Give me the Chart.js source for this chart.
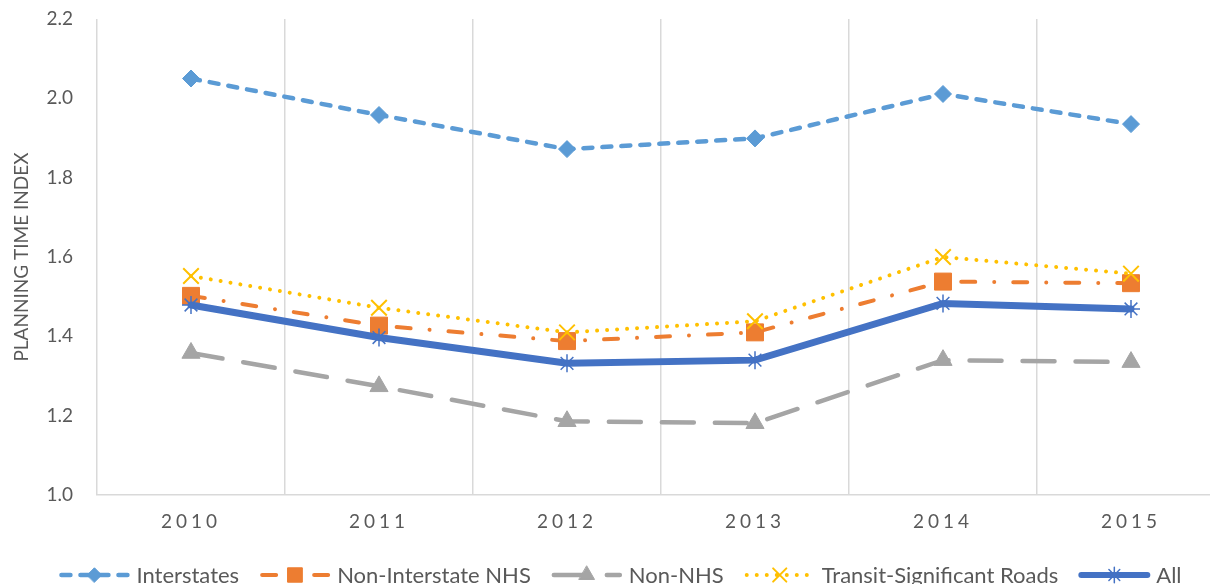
<!DOCTYPE html>
<html>
<head>
<meta charset="utf-8">
<script src="https://cdn.jsdelivr.net/npm/chart.js@4"></script>
<style>
  html, body { margin: 0; padding: 0; background: #ffffff; overflow: hidden; width: 1210px; height: 584px; }
  #wrap { width: 1240px; height: 600px; }
</style>
</head>
<body>
<div id="wrap"><canvas id="c" width="1240" height="600"></canvas></div>
<script>
const categories = ['2010', '2011', '2012', '2013', '2014', '2015'];
const seriesNames = ['Interstates', 'Non-Interstate NHS', 'Non-NHS', 'Transit-Significant Roads', 'All'];
const interstates      = [2.050, 1.958, 1.872, 1.899, 2.011, 1.935];
const nonInterstateNHS = [1.502, 1.427, 1.388, 1.410, 1.538, 1.534];
const nonNHS           = [1.358, 1.274, 1.186, 1.181, 1.340, 1.335];
const transitRoads     = [1.552, 1.472, 1.410, 1.438, 1.600, 1.558];
const allRoads         = [1.479, 1.397, 1.332, 1.340, 1.483, 1.469];
const yMin = 1.0, yMax = 2.2, yStep = 0.2;
const yTitle = 'PLANNING TIME INDEX';

const FONT = 'Lato';
const TEXT = '#595959';
const GRID = '#d9d9d9';

const datasets = [
  { label: seriesNames[0], data: interstates, borderColor: '#5B9BD5', backgroundColor: '#5B9BD5',
    borderWidth: 4.5, borderDash: [9, 10], borderCapStyle: 'round',
    pointStyle: 'rectRot', pointRadius: 8.5, pointBorderWidth: 1, order: 5 },
  { label: seriesNames[1], data: nonInterstateNHS, borderColor: '#ED7D31', backgroundColor: '#ED7D31',
    borderWidth: 4, borderDash: [14, 19, 0.01, 19], borderCapStyle: 'round',
    pointStyle: 'rect', pointRadius: 12, pointBorderWidth: 1, order: 4 },
  { label: seriesNames[2], data: nonNHS, borderColor: '#A5A5A5', backgroundColor: '#A5A5A5',
    borderWidth: 4.5, borderDash: [32, 21], borderCapStyle: 'round',
    pointStyle: 'triangle', pointRadius: 10.5, pointBorderWidth: 1, order: 3 },
  { label: seriesNames[3], data: transitRoads, borderColor: '#FFC000', backgroundColor: '#FFC000',
    borderWidth: 4, borderDash: [0.01, 10], borderCapStyle: 'round',
    pointStyle: 'crossRot', pointRadius: 11, pointBorderWidth: 2, order: 2 },
  { label: seriesNames[4], data: allRoads, borderColor: '#4472C4', backgroundColor: '#4472C4',
    borderWidth: 7, borderDash: [], borderCapStyle: 'round',
    pointStyle: 'star', pointRadius: 9, pointBorderWidth: 1.5, order: 1 }
].map(d => Object.assign({ fill: false, tension: 0, pointBackgroundColor: d.backgroundColor,
  pointBorderColor: d.borderColor, pointHoverRadius: d.pointRadius }, d));

const legendPlugin = {
  id: 'customLegend',
  afterDraw(chart) {
    const ctx = chart.ctx;
    const symW = 72, gapText = 6, gapItem = 20, y = 575;
    ctx.save();
    ctx.font = '22px ' + FONT;
    const widths = chart.data.datasets.map(d => ctx.measureText(d.label).width);
    let total = 0;
    widths.forEach((w, i) => { total += symW + gapText + w + (i < widths.length - 1 ? gapItem : 0); });
    let x = chart.width / 2 - total / 2;
    chart.data.datasets.forEach((d, i) => {
      ctx.save();
      ctx.strokeStyle = d.borderColor;
      ctx.lineWidth = Math.min(d.borderWidth, 6);
      ctx.lineCap = 'round';
      ctx.setLineDash(d.borderDash || []);
      ctx.beginPath();
      ctx.moveTo(x + 3, y);
      ctx.lineTo(x + symW - 3, y);
      ctx.stroke();
      ctx.setLineDash([]);
      ctx.fillStyle = d.backgroundColor;
      ctx.strokeStyle = d.borderColor;
      ctx.lineWidth = d.pointBorderWidth;
      if (Chart.helpers && Chart.helpers.drawPoint) {
        Chart.helpers.drawPoint(ctx, { pointStyle: d.pointStyle, radius: d.pointRadius * 0.85,
          borderWidth: d.pointBorderWidth, rotation: 0 }, x + symW / 2, y);
      }
      ctx.restore();
      ctx.fillStyle = TEXT;
      ctx.textBaseline = 'middle';
      ctx.textAlign = 'left';
      ctx.fillText(d.label, x + symW + gapText, y + 1);
      x += symW + gapText + widths[i] + gapItem;
    });
    ctx.restore();
  }
};

const spacingPlugin = {
  id: 'xLetterSpacing',
  beforeDraw(chart) {
    const xs = chart.scales.x;
    if (xs && !xs._spaced) {
      const orig = xs.drawLabels;
      xs.drawLabels = function (ca) {
        this.ctx.save();
        this.ctx.letterSpacing = '4px';
        orig.call(this, ca);
        this.ctx.restore();
      };
      xs._spaced = true;
    }
  }
};

new Chart(document.getElementById('c'), {
  type: 'line',
  data: { labels: categories, datasets },
  plugins: [legendPlugin, spacingPlugin],
  options: {
    responsive: false,
    animation: false,
    devicePixelRatio: 1,
    layout: { padding: { left: 0, right: 15, top: 19, bottom: 0 } },
    plugins: { legend: { display: false }, tooltip: { enabled: false } },
    scales: {
      x: {
        type: 'category',
        offset: true,
        grid: { display: true, offset: true, color: GRID, lineWidth: 1.5, drawTicks: false },
        border: { display: true, color: GRID, width: 1.5 },
        ticks: { color: TEXT, font: { family: FONT, size: 19 }, padding: 15, maxRotation: 0 },
        afterFit(scale) { scale.height = 105; scale.paddingLeft = 0; scale.paddingRight = 0; }
      },
      y: {
        min: yMin, max: yMax,
        grid: { display: false, drawTicks: false },
        border: { display: false },
        ticks: { stepSize: yStep, color: TEXT, font: { family: FONT, size: 19 }, padding: 24,
          callback: v => Number(v).toFixed(1) },
        title: { display: true, text: yTitle, color: TEXT, font: { family: FONT, size: 19, lineHeight: 1.2 },
          padding: { top: 10, bottom: 0 } },
        afterFit(scale) { scale.width = 97; scale.paddingTop = 0; scale.paddingBottom = 0; }
      }
    }
  }
});
</script>
</body>
</html>
